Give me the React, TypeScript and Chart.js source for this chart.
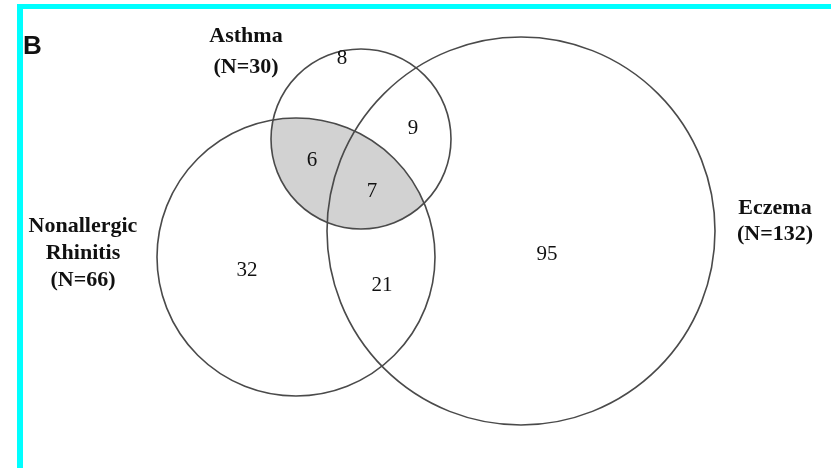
import React, { useEffect, useRef } from "react";
import { Chart, registerables } from "chart.js";

Chart.register(...registerables);

// ---- data ----
const panelLetter = "B";
const setNames = [["Asthma"], ["Nonallergic", "Rhinitis"], ["Eczema"]];
const setSizes = [30, 66, 132];
const regionNames = [
  "Asthma only",
  "Asthma + Eczema",
  "Asthma + Rhinitis",
  "All three",
  "Eczema only",
  "Rhinitis only",
  "Rhinitis + Eczema",
];
const regionCounts = [8, 9, 6, 7, 95, 32, 21];

// ---- layout (data units of a 831 x 468 frame) ----
const circleCX = [361, 296, 521];
const circleCY = [139, 257, 231];
const circleR = [90, 139, 194];
const regionX = [342, 413, 312, 372, 547, 247, 382];
const regionY = [58, 128, 160, 191, 254, 270, 285];
const labelX = [246, 83, 775];
const labelY = [36, 226, 208];
const labelGap = [31, 27, 26];

const W = 831;
const H = 468;

const vennPlugin = {
  id: "venn",
  beforeDatasetsDraw(chart: any) {
    const ctx = chart.ctx;
    const xs = chart.scales.x;
    const ys = chart.scales.y;
    const px = (v: number) => xs.getPixelForValue(v);
    const py = (v: number) => ys.getPixelForValue(v);
    const pr = (cx: number, r: number) => Math.abs(px(cx + r) - px(cx));

    ctx.save();
    ctx.fillStyle = "#ffffff";
    ctx.fillRect(0, 0, chart.width, chart.height);
    // cyan frame (top and left)
    ctx.fillStyle = "#00ffff";
    ctx.fillRect(px(17), py(4), px(W) - px(17), py(9) - py(4));
    ctx.fillRect(px(17), py(4), px(23) - px(17), py(H) - py(4));

    // shaded Asthma ∩ Rhinitis
    ctx.save();
    ctx.beginPath();
    ctx.arc(px(circleCX[0]), py(circleCY[0]), pr(circleCX[0], circleR[0]), 0, Math.PI * 2);
    ctx.clip();
    ctx.beginPath();
    ctx.arc(px(circleCX[1]), py(circleCY[1]), pr(circleCX[1], circleR[1]), 0, Math.PI * 2);
    ctx.fillStyle = "#d2d2d2";
    ctx.fill();
    ctx.restore();

    ctx.strokeStyle = "#4a4a4a";
    ctx.lineWidth = 1.6;
    for (let i = 0; i < circleCX.length; i++) {
      ctx.beginPath();
      ctx.arc(px(circleCX[i]), py(circleCY[i]), pr(circleCX[i], circleR[i]), 0, Math.PI * 2);
      ctx.stroke();
    }
    ctx.restore();
  },
  afterDatasetsDraw(chart: any) {
    const ctx = chart.ctx;
    const xs = chart.scales.x;
    const ys = chart.scales.y;
    const px = (v: number) => xs.getPixelForValue(v);
    const py = (v: number) => ys.getPixelForValue(v);
    ctx.save();
    ctx.fillStyle = "#111111";
    ctx.textBaseline = "middle";

    // panel letter
    ctx.textAlign = "left";
    ctx.font = "bold 26px 'Liberation Sans', Arial, sans-serif";
    ctx.fillText(panelLetter, px(23), py(47));

    // region counts from dataset points
    ctx.textAlign = "center";
    ctx.font = "21px 'Liberation Serif', 'Times New Roman', serif";
    const meta = chart.getDatasetMeta(0);
    meta.data.forEach((el: any, i: number) => {
      ctx.fillText(String(regionCounts[i]), el.x, el.y);
    });

    // set labels
    ctx.font = "bold 22px 'Liberation Serif', 'Times New Roman', serif";
    for (let i = 0; i < setNames.length; i++) {
      const lines = [...setNames[i], `(N=${setSizes[i]})`];
      lines.forEach((t, j) => {
        ctx.fillText(t, px(labelX[i]), py(labelY[i] + j * labelGap[i]));
      });
    }
    ctx.restore();
  },
};

export default function App() {
  const ref = useRef<HTMLCanvasElement | null>(null);
  useEffect(() => {
    if (!ref.current) return;
    const chart = new Chart(ref.current, {
      type: "scatter",
      data: {
        datasets: [
          {
            label: "Regions",
            data: regionX.map((x, i) => ({ x, y: regionY[i], name: regionNames[i] })) as any,
            pointRadius: 0,
            pointHoverRadius: 0,
          },
        ],
      },
      options: {
        responsive: false,
        animation: false,
        devicePixelRatio: 1,
        layout: { padding: 0 },
        plugins: { legend: { display: false }, tooltip: { enabled: false } },
        scales: {
          x: { type: "linear", min: 0, max: W, display: false },
          y: { type: "linear", min: 0, max: H, reverse: true, display: false },
        },
      },
      plugins: [vennPlugin],
    });
    return () => chart.destroy();
  }, []);
  return (
    <div style={{ position: "absolute", left: 0, top: 0, width: W, height: H }}>
      <canvas ref={ref} width={W} height={H} style={{ display: "block" }} />
    </div>
  );
}
